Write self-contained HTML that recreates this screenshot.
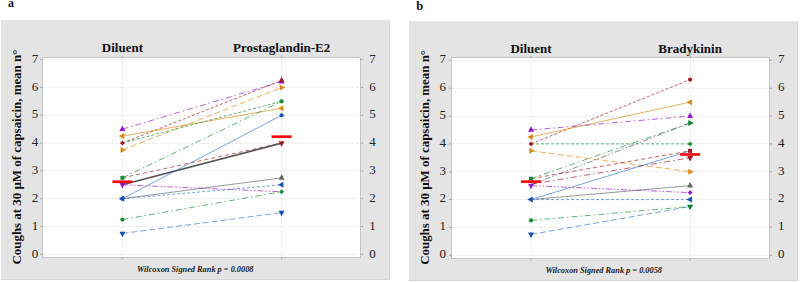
<!DOCTYPE html>
<html><head><meta charset="utf-8"><style>
html,body{margin:0;padding:0;background:#fff;}
svg{display:block;}
.tk{font-family:"Liberation Serif",serif;font-size:13px;fill:#222;}
.hd{font-family:"Liberation Serif",serif;font-size:13px;font-weight:bold;fill:#111;}
.yt{font-family:"Liberation Serif",serif;font-size:13.2px;font-weight:bold;fill:#111;}
.wl{font-family:"Liberation Serif",serif;font-size:8.3px;font-weight:bold;font-style:italic;fill:#222;}
.lb{font-family:"Liberation Serif",serif;font-weight:bold;fill:#111;}
</style></head><body>
<svg width="800" height="282" viewBox="0 0 800 282">
<rect width="800" height="282" fill="#fff"/>
<text x="7.9" y="6.6" class="lb" font-size="12">a</text>
<text x="416.2" y="9.5" class="lb" font-size="12.6">b</text>
<rect x="1" y="20" width="389" height="260" fill="#E4E4E4"/>
<path d="M389.5,20V279.5H1" fill="none" stroke="#D5D5D5" stroke-width="1"/>
<rect x="42.5" y="57.5" width="318.0" height="200.0" fill="#fff" stroke="#C6C6C6" stroke-width="1"/>
<line x1="43.5" y1="226.50" x2="359.5" y2="226.50" stroke="#E4E4E4" stroke-width="1" stroke-dasharray="2,2"/>
<line x1="43.5" y1="198.50" x2="359.5" y2="198.50" stroke="#E4E4E4" stroke-width="1" stroke-dasharray="2,2"/>
<line x1="43.5" y1="170.50" x2="359.5" y2="170.50" stroke="#E4E4E4" stroke-width="1" stroke-dasharray="2,2"/>
<line x1="43.5" y1="143.50" x2="359.5" y2="143.50" stroke="#E4E4E4" stroke-width="1" stroke-dasharray="2,2"/>
<line x1="43.5" y1="115.50" x2="359.5" y2="115.50" stroke="#E4E4E4" stroke-width="1" stroke-dasharray="2,2"/>
<line x1="43.5" y1="87.50" x2="359.5" y2="87.50" stroke="#E4E4E4" stroke-width="1" stroke-dasharray="2,2"/>
<line x1="43.5" y1="59.50" x2="359.5" y2="59.50" stroke="#E4E4E4" stroke-width="1" stroke-dasharray="2,2"/>
<line x1="43.5" y1="254.50" x2="359.5" y2="254.50" stroke="#E4E4E4" stroke-width="1" stroke-dasharray="2,2"/>
<line x1="122.50" y1="58.5" x2="122.50" y2="256.5" stroke="#E4E4E4" stroke-width="1" stroke-dasharray="2,2"/>
<line x1="281.50" y1="58.5" x2="281.50" y2="256.5" stroke="#E4E4E4" stroke-width="1" stroke-dasharray="2,2"/>
<line x1="40.0" y1="254.35" x2="42.5" y2="254.35" stroke="#999" stroke-width="0.8"/>
<line x1="360.5" y1="254.35" x2="363.0" y2="254.35" stroke="#999" stroke-width="0.8"/>
<line x1="40.0" y1="226.53" x2="42.5" y2="226.53" stroke="#999" stroke-width="0.8"/>
<line x1="360.5" y1="226.53" x2="363.0" y2="226.53" stroke="#999" stroke-width="0.8"/>
<line x1="40.0" y1="198.71" x2="42.5" y2="198.71" stroke="#999" stroke-width="0.8"/>
<line x1="360.5" y1="198.71" x2="363.0" y2="198.71" stroke="#999" stroke-width="0.8"/>
<line x1="40.0" y1="170.89" x2="42.5" y2="170.89" stroke="#999" stroke-width="0.8"/>
<line x1="360.5" y1="170.89" x2="363.0" y2="170.89" stroke="#999" stroke-width="0.8"/>
<line x1="40.0" y1="143.07" x2="42.5" y2="143.07" stroke="#999" stroke-width="0.8"/>
<line x1="360.5" y1="143.07" x2="363.0" y2="143.07" stroke="#999" stroke-width="0.8"/>
<line x1="40.0" y1="115.25" x2="42.5" y2="115.25" stroke="#999" stroke-width="0.8"/>
<line x1="360.5" y1="115.25" x2="363.0" y2="115.25" stroke="#999" stroke-width="0.8"/>
<line x1="40.0" y1="87.43" x2="42.5" y2="87.43" stroke="#999" stroke-width="0.8"/>
<line x1="360.5" y1="87.43" x2="363.0" y2="87.43" stroke="#999" stroke-width="0.8"/>
<line x1="40.0" y1="59.61" x2="42.5" y2="59.61" stroke="#999" stroke-width="0.8"/>
<line x1="360.5" y1="59.61" x2="363.0" y2="59.61" stroke="#999" stroke-width="0.8"/>
<line x1="122.40" y1="55.5" x2="122.40" y2="57.5" stroke="#999" stroke-width="0.8"/>
<line x1="122.40" y1="257.5" x2="122.40" y2="259.5" stroke="#999" stroke-width="0.8"/>
<line x1="281.60" y1="55.5" x2="281.60" y2="57.5" stroke="#999" stroke-width="0.8"/>
<line x1="281.60" y1="257.5" x2="281.60" y2="259.5" stroke="#999" stroke-width="0.8"/>
<text x="38.2" y="257.55" text-anchor="end" class="tk">0</text>
<text x="369.3" y="257.55" class="tk">0</text>
<text x="38.2" y="229.73" text-anchor="end" class="tk">1</text>
<text x="369.3" y="229.73" class="tk">1</text>
<text x="38.2" y="201.91" text-anchor="end" class="tk">2</text>
<text x="369.3" y="201.91" class="tk">2</text>
<text x="38.2" y="174.09" text-anchor="end" class="tk">3</text>
<text x="369.3" y="174.09" class="tk">3</text>
<text x="38.2" y="146.27" text-anchor="end" class="tk">4</text>
<text x="369.3" y="146.27" class="tk">4</text>
<text x="38.2" y="118.45" text-anchor="end" class="tk">5</text>
<text x="369.3" y="118.45" class="tk">5</text>
<text x="38.2" y="90.63" text-anchor="end" class="tk">6</text>
<text x="369.3" y="90.63" class="tk">6</text>
<text x="38.2" y="62.81" text-anchor="end" class="tk">7</text>
<text x="369.3" y="62.81" class="tk">7</text>
<text x="122.40" y="52" text-anchor="middle" class="hd">Diluent</text>
<text x="281.60" y="52" text-anchor="middle" class="hd">Prostaglandin-E2</text>
<text transform="translate(20.8,157.1) rotate(-90) scale(0.979,1)" text-anchor="middle" class="yt">Coughs at 30 µM of capsaicin, mean n°</text>
<text x="137" y="272" class="wl">Wilcoxon Signed Rank p = 0.0008</text>
<line x1="122.40" y1="129.16" x2="281.60" y2="81.59" stroke="#9418C8" stroke-width="0.85" stroke-dasharray="6,3,1.5,3" stroke-opacity="0.8"/>
<line x1="122.40" y1="143.07" x2="281.60" y2="80.47" stroke="#A01822" stroke-width="0.85" stroke-dasharray="3,2" stroke-opacity="0.8"/>
<line x1="122.40" y1="150.02" x2="281.60" y2="87.43" stroke="#DA8C16" stroke-width="0.85" stroke-dasharray="6,3" stroke-opacity="0.8"/>
<line x1="122.40" y1="136.12" x2="281.60" y2="108.29" stroke="#DA8C16" stroke-width="0.85" stroke-opacity="0.8"/>
<line x1="122.40" y1="143.07" x2="281.60" y2="101.34" stroke="#178E32" stroke-width="0.85" stroke-dasharray="3,2" stroke-opacity="0.8"/>
<line x1="122.40" y1="177.84" x2="281.60" y2="101.34" stroke="#178E32" stroke-width="0.85" stroke-dasharray="6,3,1.5,3" stroke-opacity="0.8"/>
<line x1="122.40" y1="177.84" x2="281.60" y2="143.07" stroke="#A01822" stroke-width="0.85" stroke-dasharray="4,3" stroke-opacity="0.8"/>
<line x1="122.40" y1="184.80" x2="281.60" y2="143.07" stroke="#555555" stroke-width="1.7"/>
<line x1="122.40" y1="184.80" x2="281.60" y2="191.75" stroke="#9418C8" stroke-width="0.85" stroke-dasharray="6,2,1.5,2,1.5,2" stroke-opacity="0.8"/>
<line x1="122.40" y1="198.71" x2="281.60" y2="115.25" stroke="#3A78CC" stroke-width="0.85" stroke-opacity="0.8"/>
<line x1="122.40" y1="198.71" x2="281.60" y2="177.84" stroke="#666666" stroke-width="0.85" stroke-opacity="0.8"/>
<line x1="122.40" y1="198.71" x2="281.60" y2="184.80" stroke="#3A78CC" stroke-width="0.85" stroke-dasharray="3,2" stroke-opacity="0.8"/>
<line x1="122.40" y1="219.57" x2="281.60" y2="191.75" stroke="#178E32" stroke-width="0.85" stroke-dasharray="6,3,1.5,3" stroke-opacity="0.8"/>
<line x1="122.40" y1="233.48" x2="281.60" y2="212.62" stroke="#3A78CC" stroke-width="0.85" stroke-dasharray="6,3" stroke-opacity="0.8"/>
<path d="M119.40,130.99L125.40,130.99L122.40,125.49Z" fill="#9418C8"/>
<path d="M278.60,83.42L284.60,83.42L281.60,77.92Z" fill="#9418C8"/>
<path d="M122.40,140.67L124.80,143.07L122.40,145.47L120.00,143.07Z" fill="#A01822"/>
<path d="M278.60,82.31L284.60,82.31L281.60,76.81Z" fill="#A01822"/>
<path d="M120.57,147.02L120.57,153.02L126.07,150.02Z" fill="#DA8C16"/>
<path d="M279.77,84.43L279.77,90.43L285.27,87.43Z" fill="#DA8C16"/>
<path d="M124.23,133.12L124.23,139.12L118.73,136.12Z" fill="#DA8C16"/>
<path d="M283.43,105.29L283.43,111.29L277.93,108.29Z" fill="#DA8C16"/>
<circle cx="281.60" cy="101.34" r="2.1" fill="#178E32"/>
<rect x="120.40" y="175.84" width="4" height="4" fill="#178E32"/>
<path d="M278.60,141.24L284.60,141.24L281.60,146.74Z" fill="#A01822"/>
<path d="M119.40,182.97L125.40,182.97L122.40,188.47Z" fill="#9418C8"/>
<path d="M124.23,195.71L124.23,201.71L118.73,198.71Z" fill="#1452B4"/>
<circle cx="281.60" cy="115.25" r="2.1" fill="#1452B4"/>
<path d="M278.60,179.68L284.60,179.68L281.60,174.18Z" fill="#666666"/>
<circle cx="122.40" cy="198.71" r="2.1" fill="#1452B4"/>
<path d="M283.43,181.80L283.43,187.80L277.93,184.80Z" fill="#1452B4"/>
<circle cx="122.40" cy="219.57" r="2.1" fill="#178E32"/>
<path d="M281.60,189.35L284.00,191.75L281.60,194.16L279.20,191.75Z" fill="#178E32"/>
<path d="M119.40,231.65L125.40,231.65L122.40,237.15Z" fill="#1452B4"/>
<path d="M278.60,210.79L284.60,210.79L281.60,216.29Z" fill="#1452B4"/>
<line x1="112.40" y1="181.74" x2="132.40" y2="181.74" stroke="#FF0000" stroke-width="2.6"/>
<line x1="271.60" y1="136.67" x2="291.60" y2="136.67" stroke="#FF0000" stroke-width="2.6"/>
<rect x="409" y="21" width="389" height="260" fill="#E4E4E4"/>
<path d="M797.5,21V280.5H409" fill="none" stroke="#D5D5D5" stroke-width="1"/>
<rect x="451.5" y="57.5" width="318.0" height="201.0" fill="#fff" stroke="#C6C6C6" stroke-width="1"/>
<line x1="452.5" y1="227.50" x2="768.5" y2="227.50" stroke="#E4E4E4" stroke-width="1" stroke-dasharray="2,2"/>
<line x1="452.5" y1="199.50" x2="768.5" y2="199.50" stroke="#E4E4E4" stroke-width="1" stroke-dasharray="2,2"/>
<line x1="452.5" y1="171.50" x2="768.5" y2="171.50" stroke="#E4E4E4" stroke-width="1" stroke-dasharray="2,2"/>
<line x1="452.5" y1="143.50" x2="768.5" y2="143.50" stroke="#E4E4E4" stroke-width="1" stroke-dasharray="2,2"/>
<line x1="452.5" y1="116.50" x2="768.5" y2="116.50" stroke="#E4E4E4" stroke-width="1" stroke-dasharray="2,2"/>
<line x1="452.5" y1="88.50" x2="768.5" y2="88.50" stroke="#E4E4E4" stroke-width="1" stroke-dasharray="2,2"/>
<line x1="452.5" y1="60.50" x2="768.5" y2="60.50" stroke="#E4E4E4" stroke-width="1" stroke-dasharray="2,2"/>
<line x1="452.5" y1="255.50" x2="768.5" y2="255.50" stroke="#E4E4E4" stroke-width="1" stroke-dasharray="2,2"/>
<line x1="531.50" y1="58.5" x2="531.50" y2="257.5" stroke="#E4E4E4" stroke-width="1" stroke-dasharray="2,2"/>
<line x1="690.50" y1="58.5" x2="690.50" y2="257.5" stroke="#E4E4E4" stroke-width="1" stroke-dasharray="2,2"/>
<line x1="449.0" y1="255.25" x2="451.5" y2="255.25" stroke="#999" stroke-width="0.8"/>
<line x1="769.5" y1="255.25" x2="772.0" y2="255.25" stroke="#999" stroke-width="0.8"/>
<line x1="449.0" y1="227.41" x2="451.5" y2="227.41" stroke="#999" stroke-width="0.8"/>
<line x1="769.5" y1="227.41" x2="772.0" y2="227.41" stroke="#999" stroke-width="0.8"/>
<line x1="449.0" y1="199.57" x2="451.5" y2="199.57" stroke="#999" stroke-width="0.8"/>
<line x1="769.5" y1="199.57" x2="772.0" y2="199.57" stroke="#999" stroke-width="0.8"/>
<line x1="449.0" y1="171.73" x2="451.5" y2="171.73" stroke="#999" stroke-width="0.8"/>
<line x1="769.5" y1="171.73" x2="772.0" y2="171.73" stroke="#999" stroke-width="0.8"/>
<line x1="449.0" y1="143.89" x2="451.5" y2="143.89" stroke="#999" stroke-width="0.8"/>
<line x1="769.5" y1="143.89" x2="772.0" y2="143.89" stroke="#999" stroke-width="0.8"/>
<line x1="449.0" y1="116.05" x2="451.5" y2="116.05" stroke="#999" stroke-width="0.8"/>
<line x1="769.5" y1="116.05" x2="772.0" y2="116.05" stroke="#999" stroke-width="0.8"/>
<line x1="449.0" y1="88.21" x2="451.5" y2="88.21" stroke="#999" stroke-width="0.8"/>
<line x1="769.5" y1="88.21" x2="772.0" y2="88.21" stroke="#999" stroke-width="0.8"/>
<line x1="449.0" y1="60.37" x2="451.5" y2="60.37" stroke="#999" stroke-width="0.8"/>
<line x1="769.5" y1="60.37" x2="772.0" y2="60.37" stroke="#999" stroke-width="0.8"/>
<line x1="531.00" y1="55.5" x2="531.00" y2="57.5" stroke="#999" stroke-width="0.8"/>
<line x1="531.00" y1="258.5" x2="531.00" y2="260.5" stroke="#999" stroke-width="0.8"/>
<line x1="690.10" y1="55.5" x2="690.10" y2="57.5" stroke="#999" stroke-width="0.8"/>
<line x1="690.10" y1="258.5" x2="690.10" y2="260.5" stroke="#999" stroke-width="0.8"/>
<text x="446.0" y="258.05" text-anchor="end" class="tk">0</text>
<text x="778.0" y="258.05" class="tk">0</text>
<text x="446.0" y="230.21" text-anchor="end" class="tk">1</text>
<text x="778.0" y="230.21" class="tk">1</text>
<text x="446.0" y="202.37" text-anchor="end" class="tk">2</text>
<text x="778.0" y="202.37" class="tk">2</text>
<text x="446.0" y="174.53" text-anchor="end" class="tk">3</text>
<text x="778.0" y="174.53" class="tk">3</text>
<text x="446.0" y="146.69" text-anchor="end" class="tk">4</text>
<text x="778.0" y="146.69" class="tk">4</text>
<text x="446.0" y="118.85" text-anchor="end" class="tk">5</text>
<text x="778.0" y="118.85" class="tk">5</text>
<text x="446.0" y="91.01" text-anchor="end" class="tk">6</text>
<text x="778.0" y="91.01" class="tk">6</text>
<text x="446.0" y="63.17" text-anchor="end" class="tk">7</text>
<text x="778.0" y="63.17" class="tk">7</text>
<text x="531.00" y="52.9" text-anchor="middle" class="hd">Diluent</text>
<text x="690.10" y="52.9" text-anchor="middle" class="hd">Bradykinin</text>
<text transform="translate(429.2,157.4) rotate(-90) scale(0.979,1)" text-anchor="middle" class="yt">Coughs at 30 µM of capsaicin, mean n°</text>
<text x="545.5" y="272.5" class="wl">Wilcoxon Signed Rank p = 0.0058</text>
<line x1="531.00" y1="143.89" x2="690.10" y2="79.58" stroke="#A01822" stroke-width="0.85" stroke-dasharray="3,2" stroke-opacity="0.8"/>
<line x1="531.00" y1="136.93" x2="690.10" y2="102.13" stroke="#DA8C16" stroke-width="0.85" stroke-opacity="0.8"/>
<line x1="531.00" y1="129.97" x2="690.10" y2="116.05" stroke="#9418C8" stroke-width="0.85" stroke-dasharray="6,3,1.5,3" stroke-opacity="0.8"/>
<line x1="531.00" y1="143.89" x2="690.10" y2="143.89" stroke="#178E32" stroke-width="0.85" stroke-dasharray="3,2" stroke-opacity="0.8"/>
<line x1="531.00" y1="150.85" x2="690.10" y2="171.73" stroke="#DA8C16" stroke-width="0.85" stroke-dasharray="6,3" stroke-opacity="0.8"/>
<line x1="531.00" y1="178.69" x2="690.10" y2="123.01" stroke="#178E32" stroke-width="0.85" stroke-dasharray="6,3,1.5,3" stroke-opacity="0.8"/>
<line x1="531.00" y1="184.81" x2="690.10" y2="123.01" stroke="#555555" stroke-width="0.85" stroke-dasharray="6,2,1.5,2,1.5,2" stroke-opacity="0.8"/>
<line x1="531.00" y1="178.69" x2="690.10" y2="150.85" stroke="#A01822" stroke-width="0.85" stroke-dasharray="4,3" stroke-opacity="0.8"/>
<line x1="531.00" y1="184.26" x2="690.10" y2="157.81" stroke="#A01822" stroke-width="0.85" stroke-dasharray="6,3,1.5,3" stroke-opacity="0.8"/>
<line x1="531.00" y1="199.57" x2="690.10" y2="150.85" stroke="#3A78CC" stroke-width="0.85" stroke-opacity="0.8"/>
<line x1="531.00" y1="185.65" x2="690.10" y2="192.61" stroke="#9418C8" stroke-width="0.85" stroke-dasharray="6,2,1.5,2,1.5,2" stroke-opacity="0.8"/>
<line x1="531.00" y1="199.57" x2="690.10" y2="185.65" stroke="#666666" stroke-width="0.85" stroke-opacity="0.8"/>
<line x1="531.00" y1="199.57" x2="690.10" y2="199.57" stroke="#3A78CC" stroke-width="0.85" stroke-dasharray="3,2" stroke-opacity="0.8"/>
<line x1="531.00" y1="220.45" x2="690.10" y2="206.53" stroke="#178E32" stroke-width="0.85" stroke-dasharray="6,3,1.5,3" stroke-opacity="0.8"/>
<line x1="531.00" y1="234.37" x2="690.10" y2="206.53" stroke="#3A78CC" stroke-width="0.85" stroke-dasharray="6,3" stroke-opacity="0.8"/>
<path d="M531.00,141.49L533.40,143.89L531.00,146.29L528.60,143.89Z" fill="#A01822"/>
<circle cx="690.10" cy="79.58" r="2.1" fill="#A01822"/>
<path d="M532.83,133.93L532.83,139.93L527.33,136.93Z" fill="#DA8C16"/>
<path d="M691.93,99.13L691.93,105.13L686.43,102.13Z" fill="#DA8C16"/>
<path d="M528.00,131.80L534.00,131.80L531.00,126.30Z" fill="#9418C8"/>
<path d="M687.10,117.88L693.10,117.88L690.10,112.38Z" fill="#9418C8"/>
<path d="M690.10,141.49L692.50,143.89L690.10,146.29L687.70,143.89Z" fill="#178E32"/>
<path d="M529.17,147.85L529.17,153.85L534.67,150.85Z" fill="#DA8C16"/>
<path d="M688.27,168.73L688.27,174.73L693.77,171.73Z" fill="#DA8C16"/>
<rect x="529.00" y="176.69" width="4" height="4" fill="#178E32"/>
<path d="M688.27,120.01L688.27,126.01L693.77,123.01Z" fill="#0F8228"/>
<rect x="688.10" y="148.85" width="4" height="4" fill="#A01822"/>
<path d="M687.10,155.98L693.10,155.98L690.10,161.48Z" fill="#A01822"/>
<path d="M532.83,196.57L532.83,202.57L527.33,199.57Z" fill="#1452B4"/>
<path d="M528.00,183.82L534.00,183.82L531.00,189.32Z" fill="#9418C8"/>
<path d="M690.10,190.21L692.50,192.61L690.10,195.01L687.70,192.61Z" fill="#9418C8"/>
<path d="M687.10,187.48L693.10,187.48L690.10,181.98Z" fill="#666666"/>
<path d="M691.93,196.57L691.93,202.57L686.43,199.57Z" fill="#1452B4"/>
<circle cx="531.00" cy="220.45" r="2.1" fill="#178E32"/>
<path d="M687.10,204.70L693.10,204.70L690.10,210.20Z" fill="#0F8228"/>
<path d="M528.00,232.54L534.00,232.54L531.00,238.04Z" fill="#1452B4"/>
<line x1="521.00" y1="181.61" x2="541.00" y2="181.61" stroke="#FF0000" stroke-width="2.6"/>
<line x1="680.10" y1="154.47" x2="700.10" y2="154.47" stroke="#FF0000" stroke-width="2.6"/>
</svg>
</body></html>
